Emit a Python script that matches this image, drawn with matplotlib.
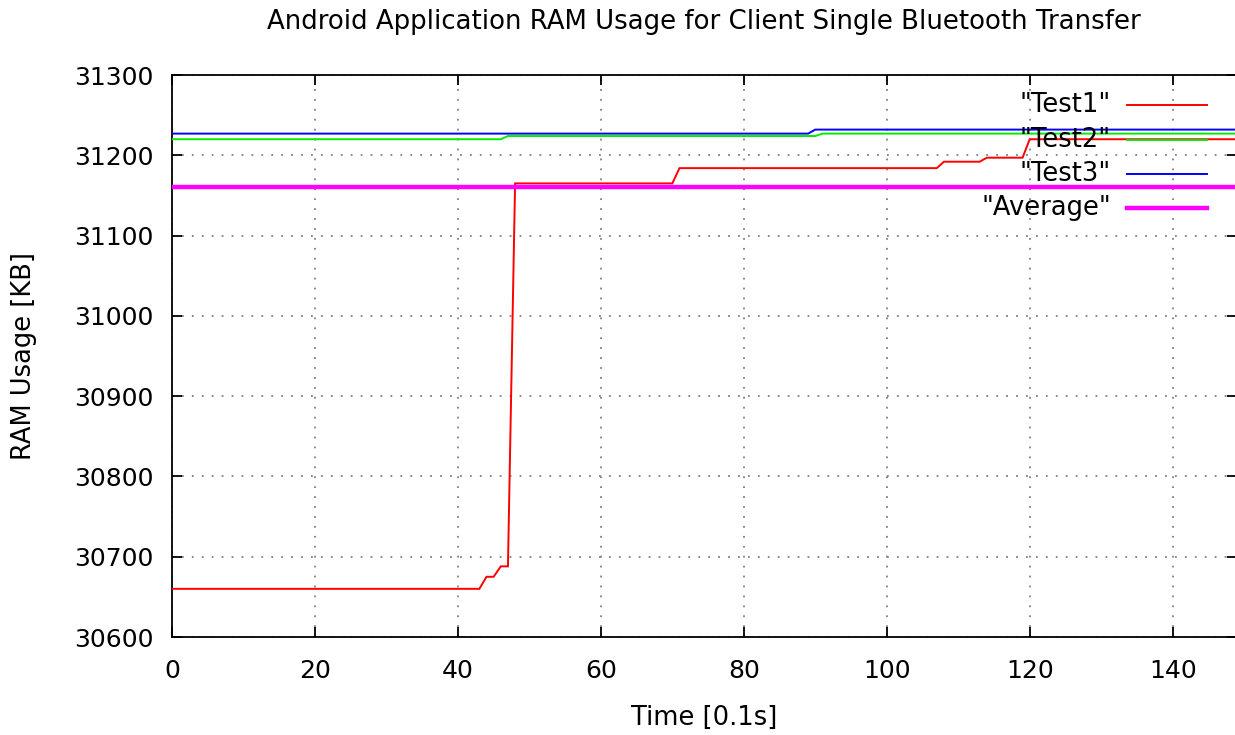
import matplotlib
matplotlib.use('Agg')
import matplotlib.pyplot as plt
from matplotlib.lines import Line2D

plt.rcParams['font.family'] = ['DejaVu Sans']

# step corners (time in 0.1 s, RAM in KB)
test1_t = [0, 43, 44, 45, 46, 47, 48, 70, 71, 107, 108, 113, 114, 119, 120, 149]
test1_v = [30660, 30660, 30675, 30675, 30688, 30688, 31165, 31165, 31184,
           31184, 31192, 31192, 31197, 31197, 31220, 31220]
test2_t = [0, 46, 47, 90, 91, 149]
test2_v = [31220, 31220, 31224, 31224, 31227, 31227]
test3_t = [0, 89, 90, 149]
test3_v = [31227, 31227, 31232, 31232]
avg_t = [0, 149]
avg_v = [31160, 31160]

labels = ['"Test1"', '"Test2"', '"Test3"', '"Average"']
colors = ['#ff0000', '#00ee00', '#0000ff', '#ff00ff']
widths = [1.4, 1.4, 1.4, 3.2]

W, H = 1235, 735
fig = plt.figure(figsize=(W / 100, H / 100), dpi=100)
fig.patch.set_facecolor('white')
ax = fig.add_axes([172 / W, 1 - 637 / H, (1237 - 172) / W, (637 - 75) / H])

series = [(test1_t, test1_v), (test2_t, test2_v), (test3_t, test3_v), (avg_t, avg_v)]
for (t, v), c, lw in zip(series, colors, widths):
    ax.plot(t, v, color=c, lw=lw, zorder=3, solid_joinstyle='miter')

ax.set_xlim(0, 149)
ax.set_ylim(30600, 31300)
ax.set_xticks(range(0, 141, 20))
ax.set_yticks(range(30600, 31301, 100))
ax.grid(True, color='#808080', linestyle=(0, (1, 4.5)), lw=1.3)
ax.tick_params(direction='in', length=7.5, width=1.3, top=True, right=True,
               labelsize=18, colors='black')
ax.tick_params(axis='x', pad=16)
ax.tick_params(axis='y', pad=13)
for s in ax.spines.values():
    s.set_linewidth(1.3)
    s.set_color('black')

fig.text(704 / W, 1 - 22 / H, 'Android Application RAM Usage for Client Single Bluetooth Transfer',
         ha='center', va='center', fontsize=18.7)
fig.text(704 / W, 1 - 718 / H, 'Time [0.1s]', ha='center', va='center', fontsize=18.5)
fig.text(24 / W, 1 - 356 / H, 'RAM Usage [KB]', ha='center', va='center',
         rotation=90, fontsize=18.5)

# gnuplot style key, text right aligned, drawn under the data lines
key_y = [105, 140, 174, 208]
for lab, c, lw, y in zip(labels, colors, widths, key_y):
    fig.text(1111 / W, 1 - y / H, lab, ha='right', va='center', fontsize=18.5, zorder=1)
    fig.add_artist(Line2D([1127 / W, 1207 / W], [1 - y / H, 1 - y / H],
                          color=c, lw=lw, zorder=1))

fig.savefig('out.png', dpi=100)
